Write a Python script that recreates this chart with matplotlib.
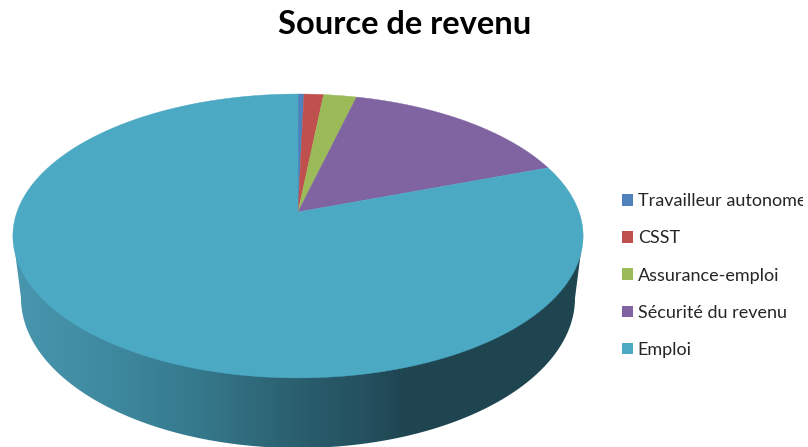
import numpy as np
import matplotlib
matplotlib.use("Agg")
import matplotlib.pyplot as plt
from matplotlib.patches import Polygon, Patch, Rectangle
from matplotlib.colors import LinearSegmentedColormap

title = "Source de revenu"
categories = ["Travailleur autonome", "CSST", "Assurance-emploi", "Sécurité du revenu", "Emploi"]
values = [0.4, 1.3, 2.2, 15.6, 80.5]
colors = ["#4F81BD", "#C0504D", "#9BBB59", "#8064A2", "#4BA9C4"]

W, H = 808, 447
plt.rcParams["font.family"] = ["Lato", "DejaVu Sans"]
fig = plt.figure(figsize=(W / 100, H / 100), dpi=100)
ax = fig.add_axes([0, 0, 1, 1])
ax.set_xlim(0, W)
ax.set_ylim(H, 0)
ax.axis("off")

# perspective pie geometry (pixels)
CX, CY, K, A, B = 298.0, 212.0, 0.169, 137.9, 281.0


def project(theta):
    u, v = np.sin(theta), np.cos(theta)
    w = 1 + K * v
    return np.column_stack([CX + B * u / w, CY - A * v / w])


# side wall with horizontal shading
low_cx, low_cy, low_rx, low_ry = 298.0, 298.0, 277.0, 150.0
t = np.linspace(np.pi, 0, 300)
low = np.column_stack([low_cx + low_rx * np.cos(t), low_cy + low_ry * np.sin(t)])
side_pts = np.vstack([[[13, 236]], low, [[583, 236]]])
side = Polygon(side_pts, closed=True, facecolor="none", edgecolor="none")
ax.add_patch(side)
stops = [(0.0, "#4897AF"), (0.16, "#3F8AA0"), (0.33, "#35788B"), (0.5, "#2A5F6E"),
         (0.62, "#25505F"), (0.69, "#1F4550"), (1.0, "#1F4550")]
cmap = LinearSegmentedColormap.from_list("side", stops)
grad = np.linspace(0, 1, 512)[None, :]
im = ax.imshow(grad, cmap=cmap, extent=(13, 583, 450, 230), aspect="auto", zorder=1, interpolation="bilinear")
im.set_clip_path(side)
ax.set_xlim(0, W)
ax.set_ylim(H, 0)

# top face wedges
fractions = np.array(values) / np.sum(values)
edges = np.concatenate([[0], np.cumsum(fractions)]) * 2 * np.pi
handles = []
for i, (name, col) in enumerate(zip(categories, colors)):
    n = max(3, int(fractions[i] * 720))
    rim = project(np.linspace(edges[i], edges[i + 1], n))
    ax.add_patch(Polygon(np.vstack([[[CX, CY]], rim]), closed=True, facecolor=col,
                         edgecolor=col, linewidth=0.3, zorder=2))
    handles.append(Patch(facecolor=col, edgecolor="none", label=name))

fig.text(405 / W, 1 - 24 / H, title, fontsize=23.5, fontweight="bold", color="#000000",
         ha="center", va="center")

leg = ax.legend(handles=handles, loc="center left", bbox_to_anchor=(622 / W, 1 - 275.5 / H),
                bbox_transform=fig.transFigure, frameon=False, fontsize=13,
                handlelength=0.62, handleheight=0.62, handletextpad=0.25,
                labelspacing=1.175, borderpad=0, borderaxespad=0)
leg.set_zorder(3)
clip = Rectangle((0, 0), 803, H, transform=ax.transData)
for txt in leg.get_texts():
    txt.set_color("#262626")
    txt.set_clip_path(clip)
    txt.set_clip_on(True)

fig.savefig("out.png", dpi=100)
